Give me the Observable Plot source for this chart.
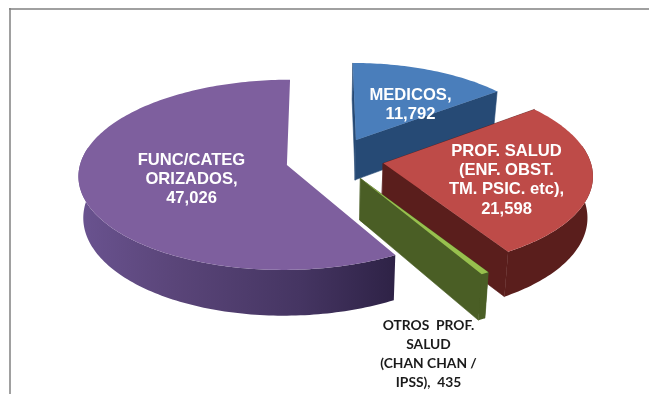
<!DOCTYPE html>
<html><head><meta charset="utf-8">
<script src="https://cdn.jsdelivr.net/npm/d3@7"></script>
<script src="https://cdn.jsdelivr.net/npm/@observablehq/plot@0.6"></script>
<style>html,body{margin:0;background:#fff}svg{display:block;filter:blur(.35px)}</style>
</head><body><div id="chart"></div>
<script>
const categories = ["MEDICOS", "PROF. SALUD (ENF. OBST. TM. PSIC. etc)", "OTROS PROF. SALUD (CHAN CHAN / IPSS)", "FUNC/CATEGORIZADOS"];
const values = [11792, 21598, 435, 47026];
const labelLines = [
  "MEDICOS,\n11,792",
  "PROF. SALUD\n(ENF. OBST.\nTM. PSIC. etc),\n21,598",
  "OTROS  PROF.\nSALUD\n(CHAN CHAN /\nIPSS),  435",
  "FUNC/CATEG\nORIZADOS,\n47,026"
];
// layout
const topColors = ["#4a7ebb", "#be4b48", "#98c04e", "#7e5f9e"];
const rimColors = ["#264a75", "#5a1e1c", "#4a5e25", "url(#rimPurple)"];
const cutColors = ["#264a75", "#5a1e1c", "#4a5e25", null];
const radiusK = [0.945, 1, 1.02, 0.995];
const nudgeX = [0, 0, 0, -1];
const labelX = [410, 506, 428, 191];
const labelY = [103, 178, 352, 177.5];
const labelColor = ["#fff", "#fff", "#1a1a1a", "#fff"];
const labelFont = ["Liberation Sans", "Liberation Sans", "Lato", "Liberation Sans"];
const labelSize = [16.6, 16.6, 13.8, 16.6];
const labelLead = [19, 19.3, 19, 19];

const R = 208, explode = 49, D = 1980, H = 900, vx = 320, vy = -735, X0 = 15.3, Y0 = -12.7, depth = 41, nadir = 0.98;
const total = d3.sum(values);
function project(X, Y, z) {
  const s = 1 / (1 - Y / D);
  const x = vx + X * s, y = vy + H * s;
  return z ? {x: vx + (x - vx) * nadir, y: y + depth * s} : {x, y};
}
let acc = 0;
const slices = values.map((v, i) => {
  const a0 = acc / total * 2 * Math.PI; acc += v;
  const a1 = acc / total * 2 * Math.PI, m = (a0 + a1) / 2;
  return {i, a0, a1, r: R * radiusK[i], cx: X0 + nudgeX[i] + explode * Math.sin(m), cy: Y0 - explode * Math.cos(m)};
});
const rimPt = (s, a, z) => project(s.cx + s.r * Math.sin(a), s.cy - s.r * Math.cos(a), z);
const apex = (s, z) => project(s.cx, s.cy, z);
const angles = s => { const n = Math.max(2, Math.ceil((s.a1 - s.a0) * 50)); return d3.range(n + 1).map(k => s.a0 + (s.a1 - s.a0) * k / n); };

function faceRows(key, upper, lower) {
  return upper.map((u, k) => ({key, x1: u.x, y1: u.y, x2: lower[k].x, y2: lower[k].y}));
}
const marks = [];
const area = (rows, fill, stroke) => Plot.area(rows, {x1: "x1", y1: "y1", x2: "x2", y2: "y2", fill, stroke: stroke || "none", strokeWidth: 0.6, curve: "linear"});
marks.push(() => {
  const svgNS = "http://www.w3.org/2000/svg";
  const defs = document.createElementNS(svgNS, "defs");
  const g = document.createElementNS(svgNS, "linearGradient");
  g.setAttribute("id", "rimPurple");
  [[0, "#6a5390"], [0.3, "#5a4579"], [0.7, "#453562"], [1, "#2e2246"]].forEach(([o, c]) => {
    const st = document.createElementNS(svgNS, "stop");
    st.setAttribute("offset", o); st.setAttribute("stop-color", c); g.appendChild(st);
  });
  defs.appendChild(g);
  return defs;
});
marks.push(Plot.ruleX([9.5], {y1: 8, y2: 394, stroke: "#808080", strokeWidth: 1.5}));
marks.push(Plot.ruleY([8.5], {x1: 9, x2: 649, stroke: "#808080", strokeWidth: 1.5}));
slices.forEach(s => {
  const as = angles(s);
  const front = as.filter(a => Math.cos(a) < 0.2);
  if (cutColors[s.i]) [s.a0, s.a1].forEach((a, j) => {
    marks.push(area(faceRows(`c${j}`, [apex(s, false), rimPt(s, a, false)], [apex(s, true), rimPt(s, a, true)]), cutColors[s.i], cutColors[s.i]));
  });
  if (front.length) marks.push(area(faceRows("r", front.map(a => rimPt(s, a, false)), front.map(a => rimPt(s, a, true))), rimColors[s.i]));
  marks.push(area(faceRows("t", as.map(a => rimPt(s, a, false)), as.map(() => apex(s, false))), topColors[s.i]));
});
slices.forEach(s => {
  marks.push(Plot.text([labelLines[s.i]], {
    x: () => labelX[s.i], y: () => labelY[s.i], text: d => d,
    fill: labelColor[s.i], fontFamily: labelFont[s.i], fontWeight: "bold",
    fontSize: labelSize[s.i], lineHeight: labelLead[s.i] / labelSize[s.i], textAnchor: "middle"
  }));
});
const chart = Plot.plot({
  width: 649, height: 394, margin: 0,
  x: {type: "identity", axis: null}, y: {type: "identity", axis: null},
  style: {background: "#fff"},
  marks
});
document.getElementById("chart").appendChild(chart);
</script></body></html>
